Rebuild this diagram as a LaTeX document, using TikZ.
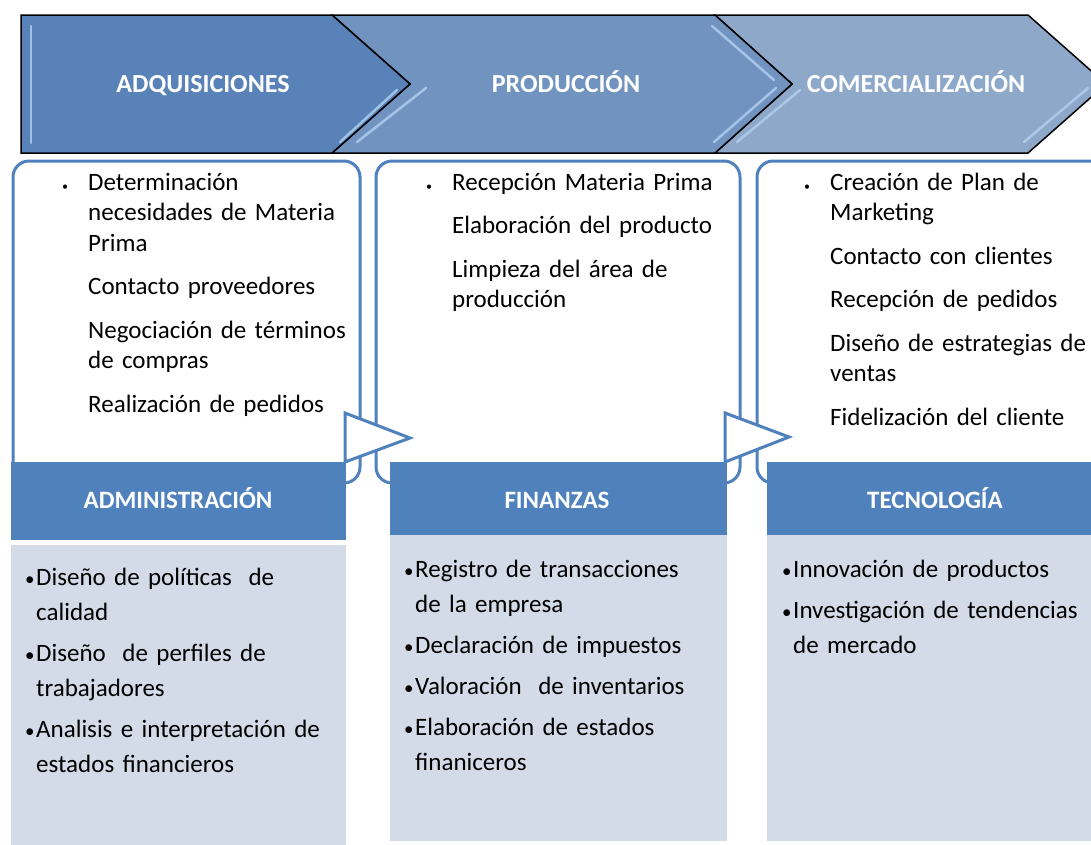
\documentclass[tikz,border=0pt]{standalone}
\usepackage{fontspec}
\setmainfont{Carlito}
\definecolor{chevA}{HTML}{5882B8}
\definecolor{chevB}{HTML}{7093BF}
\definecolor{chevC}{HTML}{8DA8C9}
\definecolor{accent}{HTML}{4F81BD}
\definecolor{paleblue}{HTML}{D3DBE8}
\definecolor{glosscol}{HTML}{B3D1F2}
\newcommand{\lowitem}[1]{\hangindent=12pt\hangafter=1\noindent\makebox[12pt][l]{\hspace{1pt}\fontsize{19}{19}\selectfont\textbullet}#1\par\vspace{6pt}}
\newcommand{\firstdot}{\llap{\fontsize{12}{12}\selectfont\textbullet\hspace{20pt}}}

\begin{document}
\begin{tikzpicture}[
        x=1pt, y=-1pt,
        chevron/.style={draw=black, line width=1.5pt, line join=miter},
        gloss/.style={draw=glosscol, line width=2.5pt, line cap=round, opacity=0.8},
        stagelabel/.style={text=white, font=\fontsize{26}{26}\selectfont\bfseries, text height=17pt, text depth=0pt, inner sep=0pt},
        stagebox/.style={rectangle, draw=accent, line width=3pt, fill=white, rounded corners=16pt, anchor=north west, inner sep=0pt, outer sep=0pt},
        flowtri/.style={draw=accent, line width=3pt, fill=white, line join=miter},
        headbar/.style={rectangle, fill=accent, anchor=north west, inner sep=0pt, outer sep=0pt},
        headlabel/.style={text=white, font=\fontsize{25}{25}\selectfont\bfseries, text height=16pt, text depth=0pt, inner sep=0pt},
        lowbox/.style={rectangle, fill=paleblue, anchor=north west, inner sep=0pt, outer sep=0pt},
        uptext/.style={anchor=base west, align=left, inner sep=0pt, text width=300pt, font=\fontsize{25}{30.5}\selectfont},
        lowtext/.style={anchor=base west, align=left, inner sep=0pt, text width=400pt, font=\fontsize{25}{35}\selectfont}
    ]

        \useasboundingbox (0,0) rectangle (1091,844);

        \draw[chevron, fill=chevC] (715,15) -- (1028,15) -- (1106,84) -- (1028,153) -- (715,153) -- (792,84) -- cycle;
        \draw[chevron, fill=chevB] (332,15) -- (715,15) -- (792,84) -- (715,153) -- (332,153) -- (410,84) -- cycle;
        \draw[chevron, fill=chevA] (21,15) -- (332,15) -- (410,84) -- (332,153) -- (21,153) -- cycle;

        \draw[gloss] (31,26) -- (31,143);
        \draw[gloss] (340,142) -- (397,90);
        \draw[gloss] (357,142) -- (426,88);
        \draw[gloss] (712,26) -- (774,80);
        \draw[gloss] (714,142) -- (776,88);
        \draw[gloss] (737,142) -- (800,90);
        \draw[gloss] (1024,142) -- (1088,88);

        \node (adq) [stagelabel] at (203,84) {ADQUISICIONES};
        \node (prod) [stagelabel] at (566,84) {PRODUCCIÓN};
        \node (comer) [stagelabel] at (916,84) {COMERCIALIZACIÓN};

        \node (adqbox) [stagebox, minimum width=347pt, minimum height=322pt] at (13,161) {};
        \node (prodbox) [stagebox, minimum width=364pt, minimum height=322pt] at (376,161) {};
        \node (comerbox) [stagebox, minimum width=400pt, minimum height=322pt] at (757,161) {};

        \draw[flowtri] (345,413) -- (410,438) -- (345,462) -- cycle;
        \draw[flowtri] (725,413) -- (789,437) -- (725,462) -- cycle;

        \node (admhead) [headbar, minimum width=335pt, minimum height=78pt] at (11,462) {};
        \node (finhead) [headbar, minimum width=337pt, minimum height=73pt] at (390,462) {};
        \node (tecnhead) [headbar, minimum width=336pt, minimum height=73pt] at (767,462) {};

        \node (adm) [headlabel] at (178,500) {ADMINISTRACIÓN};
        \node (fin) [headlabel] at (557,500) {FINANZAS};
        \node (tecn) [headlabel] at (935,500) {TECNOLOGÍA};

        \node (admbox) [lowbox, minimum width=335pt, minimum height=300pt] at (11,545) {};
        \node (finbox) [lowbox, minimum width=337pt, minimum height=306pt] at (390,535) {};
        \node (tecnbox) [lowbox, minimum width=336pt, minimum height=306pt] at (767,535) {};

        \node (adqtext) [uptext] at (88,190) {\firstdot Determinación\\ necesidades de Materia\\ Prima\\[13pt] Contacto proveedores\\[13pt] Negociación de términos\\ de compras\\[13pt] Realización de pedidos};
        \node (prodtext) [uptext] at (452,190) {\firstdot Recepción Materia Prima\\[13pt] Elaboración del producto\\[13pt] Limpieza del área de\\ producción};
        \node (comertext) [uptext] at (830,190) {\firstdot Creación de Plan de\\ Marketing\\[13pt] Contacto con clientes\\[13pt] Recepción de pedidos\\[13pt] Diseño de estrategias de\\ ventas\\[13pt] Fidelización del cliente};

        \node (admtext) [lowtext] at (24,585) {\lowitem{Diseño de políticas~ de\newline calidad}\lowitem{Diseño~ de perfiles de\newline trabajadores}\lowitem{Analisis e interpretación de\newline estados financieros}};
        \node (fintext) [lowtext] at (403,577) {\lowitem{Registro de transacciones\newline de la empresa}\lowitem{Declaración de impuestos}\lowitem{Valoración~ de inventarios}\lowitem{Elaboración de estados\newline finaniceros}};
        \node (tecntext) [lowtext] at (781,577) {\lowitem{Innovación de productos}\lowitem{Investigación de tendencias\newline de mercado}};

    \end{tikzpicture}
\end{document}
